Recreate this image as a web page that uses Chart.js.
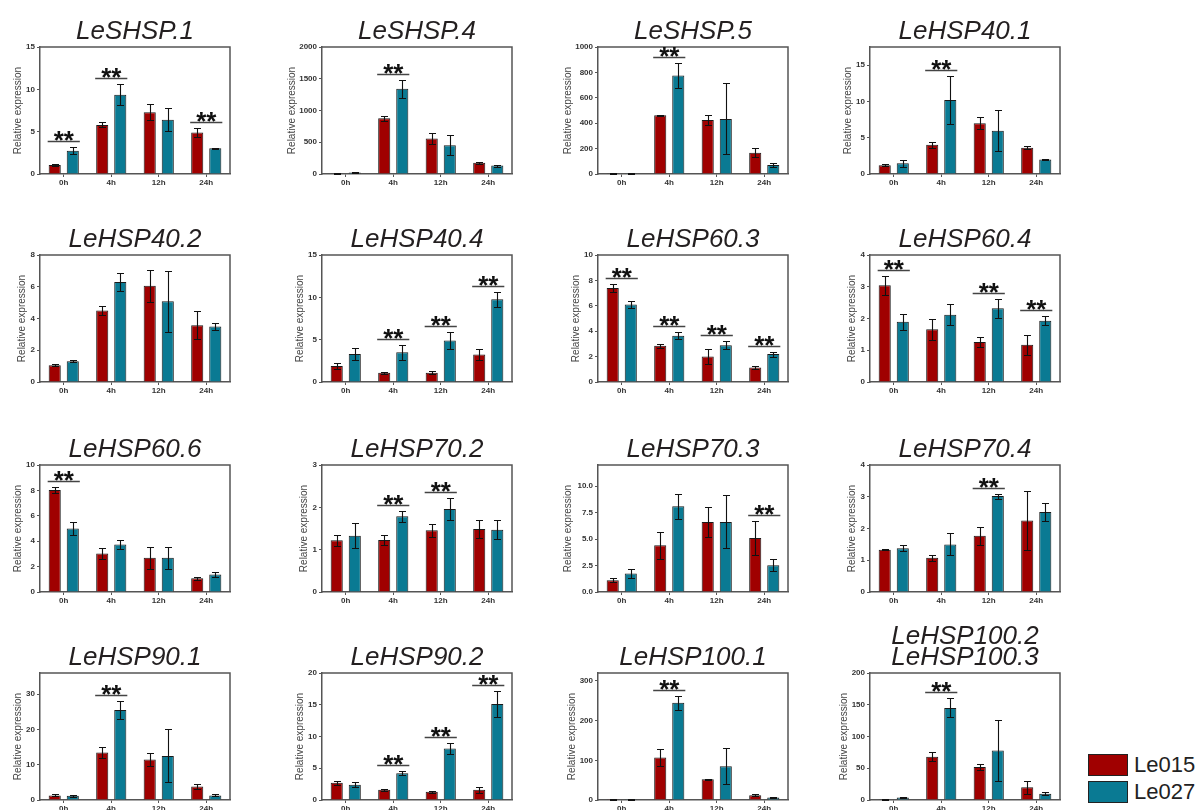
<!DOCTYPE html>
<html>
<head>
<meta charset="utf-8">
<script src="https://cdn.jsdelivr.net/npm/chart.js@4.4.1/dist/chart.umd.min.js"></script>
<style>
  body { margin: 0; width: 1200px; height: 810px; overflow: hidden; background: #fff; position: relative;
         font-family: "Liberation Sans", Arial, sans-serif; }
  .leg { position: absolute; left: 1088px; height: 22px; line-height: 22px; font-size: 22px; color: #222; white-space: nowrap; }
  .leg span { display: inline-block; width: 38px; height: 20px; border: 1px solid #222; vertical-align: top; margin-right: 6px; }
</style>
</head>
<body>
<div class="leg" style="top:754px"><span style="background:#a00000"></span>Le015</div>
<div class="leg" style="top:781px"><span style="background:#0a7a93"></span>Le027</div>
<script>
// data
const times = ['0h', '4h', '12h', '24h'];
const genes = ['LeSHSP.1', 'LeSHSP.4', 'LeSHSP.5', 'LeHSP40.1',
               'LeHSP40.2', 'LeHSP40.4', 'LeHSP60.3', 'LeHSP60.4',
               'LeHSP60.6', 'LeHSP70.2', 'LeHSP70.3', 'LeHSP70.4',
               'LeHSP90.1', 'LeHSP90.2', 'LeHSP100.1', ['LeHSP100.2', 'LeHSP100.3']];

const le015 = [
  [1.07, 5.8, 7.3, 4.9], [5, 879, 558, 179], [2, 463, 426, 168], [1.2, 4.03, 7.0, 3.6],
  [1.06, 4.5, 6.07, 3.58], [1.9, 1.1, 1.1, 3.25], [7.4, 2.86, 2.0, 1.14], [3.05, 1.66, 1.26, 1.17],
  [8.03, 3.03, 2.7, 1.08], [1.22, 1.23, 1.46, 1.49], [1.1, 4.42, 6.62, 5.11], [1.33, 1.08, 1.77, 2.25],
  [1.3, 13.5, 11.5, 3.8], [2.7, 1.6, 1.3, 1.6], [2, 107, 52, 12], [1, 68, 52, 20]
];
const le027 = [
  [2.76, 9.36, 6.4, 3.04], [25, 1342, 453, 132], [6, 776, 434, 71], [1.48, 10.2, 5.97, 2.0],
  [1.31, 6.3, 5.08, 3.49], [3.3, 3.5, 4.9, 9.76], [6.1, 3.65, 2.9, 2.2], [1.9, 2.12, 2.32, 1.93],
  [5.0, 3.74, 2.7, 1.37], [1.33, 1.79, 1.96, 1.47], [1.74, 8.1, 6.62, 2.52], [1.38, 1.5, 3.02, 2.52],
  [1.2, 25.5, 12.5, 1.3], [2.4, 4.2, 8.1, 15.1], [2, 245, 85, 6], [4, 145, 78, 10]
];
const err015 = [
  [0.1, 0.3, 0.95, 0.5], [5, 40, 80, 15], [2, 5, 37, 35], [0.15, 0.4, 0.8, 0.2],
  [0.08, 0.3, 1.0, 0.87], [0.4, 0.1, 0.15, 0.6], [0.3, 0.15, 0.6, 0.13], [0.3, 0.34, 0.15, 0.32],
  [0.22, 0.4, 0.85, 0.1], [0.13, 0.12, 0.15, 0.22], [0.2, 1.26, 1.4, 1.6], [0.02, 0.09, 0.29, 0.92],
  [0.3, 1.5, 1.8, 0.8], [0.3, 0.15, 0.15, 0.5], [1, 22, 2, 3], [0.5, 7, 4, 10]
];
const err027 = [
  [0.37, 1.25, 1.35, 0.05], [5, 145, 160, 15], [3, 98, 280, 12], [0.5, 3.3, 2.8, 0.05],
  [0.07, 0.58, 1.9, 0.2], [0.7, 0.9, 1.0, 0.9], [0.28, 0.3, 0.3, 0.2], [0.25, 0.33, 0.3, 0.15],
  [0.53, 0.33, 0.85, 0.22], [0.3, 0.13, 0.26, 0.22], [0.4, 1.2, 2.5, 0.57], [0.1, 0.35, 0.08, 0.27],
  [0.3, 2.5, 7.5, 0.3], [0.4, 0.3, 0.9, 2.0], [1, 18, 45, 2], [1, 15, 48, 2]
];
// time points marked ** (index into times)
const sig = [[0, 1, 3], [1], [1], [1], [], [1, 2, 3], [0, 1, 2, 3], [0, 2, 3],
             [0], [1, 2], [3], [2], [1], [1, 2, 3], [1], [1]];
const yMax = [15, 2000, 1000, 17.5, 8, 15, 10, 4, 10, 3, 12, 4, 36, 20, 320, 200];
const yTicks = [
  ['0', '5', '10', '15'], ['0', '500', '1000', '1500', '2000'], ['0', '200', '400', '600', '800', '1000'], ['0', '5', '10', '15'],
  ['0', '2', '4', '6', '8'], ['0', '5', '10', '15'], ['0', '2', '4', '6', '8', '10'], ['0', '1', '2', '3', '4'],
  ['0', '2', '4', '6', '8', '10'], ['0', '1', '2', '3'], ['0.0', '2.5', '5.0', '7.5', '10.0'], ['0', '1', '2', '3', '4'],
  ['0', '10', '20', '30'], ['0', '5', '10', '15', '20'], ['0', '100', '200', '300'], ['0', '50', '100', '150', '200']
];

// layout
const colLeft = [40, 322, 598, 870];
const rowTop = [47, 255, 465, 673];
const boxW = 190, boxH = 127;
const padTop = 47, axisW = 40, xAxisH = 24, padR = 8;
const RED = '#a00000', TEAL = '#0a7a93', AX = '#555';
const FONT = '"Liberation Sans", Arial, sans-serif';
Chart.defaults.font.family = FONT;

// title, frame, error bars and ** brackets
const extras = {
  id: 'extras',
  afterDatasetsDraw(chart, args, opts) {
    const ctx = chart.ctx;
    const y = chart.scales.y;
    ctx.save();
    ctx.strokeStyle = '#111';
    ctx.lineWidth = 1.1;
    chart.data.datasets.forEach((ds, d) => {
      chart.getDatasetMeta(d).data.forEach((bar, j) => {
        const hi = Math.round(y.getPixelForValue(ds.data[j] + ds.err[j])) + 0.5;
        const lo = Math.round(y.getPixelForValue(Math.max(0, ds.data[j] - ds.err[j]))) + 0.5;
        const x = Math.round(bar.x) + 0.5;
        ctx.beginPath();
        ctx.moveTo(x, hi); ctx.lineTo(x, lo);
        ctx.moveTo(x - 3.5, hi); ctx.lineTo(x + 3.5, hi);
        ctx.moveTo(x - 3.5, lo); ctx.lineTo(x + 3.5, lo);
        ctx.stroke();
      });
    });
    ctx.restore();
  },
  afterDraw(chart, args, opts) {
    const ctx = chart.ctx;
    const a = chart.chartArea;
    const y = chart.scales.y;
    ctx.save();
    // frame top and right
    ctx.strokeStyle = AX;
    ctx.lineWidth = 1.5;
    ctx.beginPath();
    ctx.moveTo(a.left, a.top); ctx.lineTo(a.right, a.top); ctx.lineTo(a.right, a.bottom);
    ctx.stroke();
    // title
    const lines = Array.isArray(opts.title) ? opts.title : [opts.title];
    ctx.fillStyle = '#231f20';
    ctx.font = 'italic 26px ' + FONT;
    ctx.textAlign = 'center';
    ctx.textBaseline = 'alphabetic';
    lines.forEach((t, k) => {
      ctx.fillText(t, (a.left + a.right) / 2, a.top - 8 - (lines.length - 1 - k) * 21);
    });
    // significance
    const ds = chart.data.datasets;
    const m0 = chart.getDatasetMeta(0), m1 = chart.getDatasetMeta(1);
    opts.sig.forEach(j => {
      const top = Math.min(y.getPixelForValue(ds[0].data[j] + ds[0].err[j]),
                           y.getPixelForValue(ds[1].data[j] + ds[1].err[j]));
      const ly = Math.round(top - 6) + 0.5;
      const x0 = m0.data[j].x - m0.data[j].width / 2 - 1;
      const x1 = m1.data[j].x + m1.data[j].width / 2 + 1;
      ctx.strokeStyle = '#444';
      ctx.lineWidth = 1.3;
      ctx.beginPath();
      ctx.moveTo(x0, ly); ctx.lineTo(x1, ly);
      ctx.stroke();
      ctx.fillStyle = '#111';
      ctx.font = 'bold 26px ' + FONT;
      ctx.fillText('**', (x0 + x1) / 2, ly + 7);
    });
    ctx.restore();
  }
};

genes.forEach((g, i) => {
  const r = Math.floor(i / 4), c = i % 4;
  const W = axisW + boxW + padR, H = padTop + boxH + xAxisH;
  const cv = document.createElement('canvas');
  cv.width = W; cv.height = H;
  cv.style.cssText = `position:absolute;left:${colLeft[c] - axisW}px;top:${rowTop[r] - padTop}px;width:${W}px;height:${H}px`;
  document.body.appendChild(cv);
  const ticks = yTicks[i];
  const maxLen = Math.max(...ticks.map(t => t.length));
  const titleOffset = 14 + 4 * maxLen; // distance of the y title centre from the axis

  new Chart(cv, {
    type: 'bar',
    data: {
      labels: times,
      datasets: [
        { label: 'Le015', data: le015[i], err: err015[i], backgroundColor: RED, borderColor: '#1a1a1a', borderWidth: 1 },
        { label: 'Le027', data: le027[i], err: err027[i], backgroundColor: TEAL, borderColor: '#1a1a1a', borderWidth: 1 }
      ]
    },
    options: {
      responsive: false,
      animation: false,
      devicePixelRatio: 1,
      layout: { padding: { top: padTop, right: padR, left: 0, bottom: 0 } },
      datasets: { bar: { categoryPercentage: 0.76, barPercentage: 0.67 } },
      plugins: {
        legend: { display: false },
        tooltip: { enabled: false },
        extras: { title: g, sig: sig[i] }
      },
      scales: {
        x: {
          grid: { display: true, drawOnChartArea: false, offset: false, tickLength: 3, color: AX },
          border: { color: AX, width: 1.5 },
          ticks: { font: { size: 8, weight: 'bold' }, color: '#333', padding: 1, maxRotation: 0 },
          afterFit: s => { s.height = xAxisH; }
        },
        y: {
          min: 0,
          max: yMax[i],
          grid: { drawOnChartArea: false, tickLength: 3, color: AX },
          border: { color: AX, width: 1.5 },
          afterBuildTicks: s => { s.ticks = ticks.map(t => ({ value: parseFloat(t) })); },
          ticks: { callback: (v, idx) => ticks[idx], font: { size: 8, weight: 'bold' }, color: '#333', padding: 2 },
          title: {
            display: true, text: 'Relative expression', color: '#444',
            font: { size: 10 }, padding: { top: Math.max(0, axisW - titleOffset - 6), bottom: 0 }
          },
          afterFit: s => { s.width = axisW; }
        }
      }
    },
    plugins: [extras]
  });
});
</script>
</body>
</html>
